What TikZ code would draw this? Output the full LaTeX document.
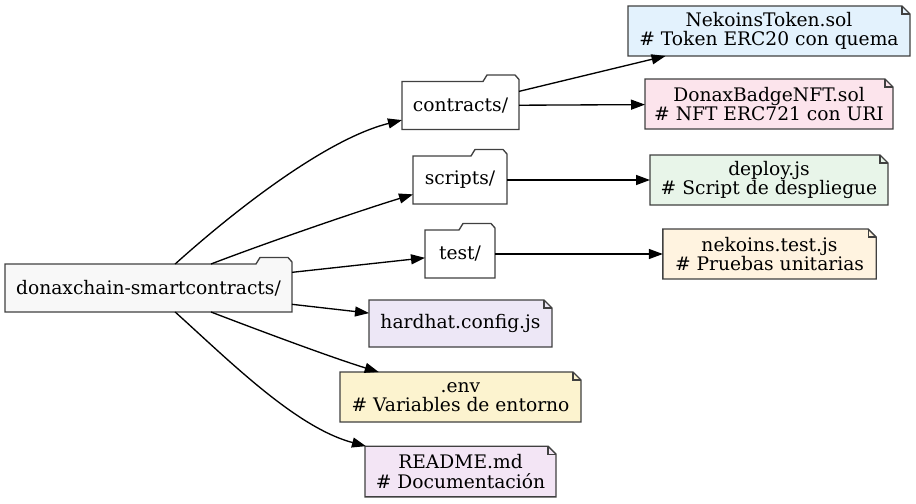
\documentclass[tikz,border=0pt]{standalone}
\usepackage{fontspec}
\setmainfont{DejaVu Serif}
\usepackage[dvipsnames]{xcolor}
\usetikzlibrary{arrows.meta,backgrounds}
\definecolor{rootgray}{HTML}{F8F8F8}
\definecolor{tokenblue}{HTML}{E3F2FD}
\definecolor{badgepink}{HTML}{FCE4EC}
\definecolor{deploygreen}{HTML}{E8F5E9}
\definecolor{testorange}{HTML}{FFF3E0}
\definecolor{hardhatlilac}{HTML}{EDE7F6}
\definecolor{envyellow}{HTML}{FCF3CF}
\definecolor{readmepurple}{HTML}{F3E5F5}

\begin{document}
\begin{tikzpicture}[x=0.75pt,y=-0.75pt,->,>={Triangle[length=10.5pt,width=7.5pt]},
  every edge/.append style={line width=1pt},
  every node/.style={font=\fontsize{14}{14.5}\selectfont,align=center,inner sep=0pt,outer sep=0pt},
  box/.style 2 args={minimum width=#1,minimum height=#2},
  boxline/.style={line width=1pt,draw=black!75}]
  \useasboundingbox (0,0) rectangle (916,503);
  % folders
  \node[box={215.25pt}{36pt}] (root) at (148.5,288) {donaxchain-smartcontracts/};
  \node[box={87.75pt}{36pt}] (contracts) at (460.5,105.5) {contracts/};
  \node[box={70.5pt}{36pt}] (scripts) at (460,180) {scripts/};
  \node[box={52.5pt}{36pt}] (test) at (460,254) {test/};
  % files
  \node[box={137.25pt}{35.25pt}] (hardhat) at (460.5,323.5) {hardhat.config.js};
  \node[box={180.75pt}{37.5pt}] (env) at (460.5,397) {.env\\\# Variables de entorno};
  \node[box={143.25pt}{38pt}] (readme) at (460.5,471.5) {README.md\\\# Documentación};
  \node[box={211.5pt}{37.5pt}] (token) at (769,31) {NekoinsToken.sol\\\# Token ERC20 con quema};
  \node[box={186pt}{37.5pt}] (badge) at (769,104) {DonaxBadgeNFT.sol\\\# NFT ERC721 con URI};
  \node[box={178.5pt}{37.5pt}] (deploy) at (769,180) {deploy.js\\\# Script de despliegue};
  \node[box={160pt}{37.5pt}] (testjs) at (769.5,254) {nekoins.test.js\\\# Pruebas unitarias};

  \begin{scope}[on background layer,-]
    \foreach \n/\c in {root/rootgray,contracts/white,scripts/white,test/white}
      \filldraw[boxline,fill=\c] (\n.south west) -- (\n.north west)
        -- ([xshift=-27pt]\n.north east) -- ([xshift=-24pt,yshift=4.9pt]\n.north east)
        -- ([xshift=-3pt,yshift=4.9pt]\n.north east) -- ([yshift=1.5pt]\n.north east)
        -- (\n.south east) -- cycle;
    \foreach \n/\c in {hardhat/hardhatlilac,env/envyellow,readme/readmepurple,
        token/tokenblue,badge/badgepink,deploy/deploygreen,testjs/testorange}
      {\filldraw[boxline,fill=\c] (\n.south west) -- (\n.north west)
         -- ([xshift=-6pt]\n.north east) -- ([yshift=-6pt]\n.north east)
         -- (\n.south east) -- cycle;
       \draw[boxline] ([xshift=-6pt]\n.north east) |- ([yshift=-6pt]\n.north east);}
  \end{scope}

  \path (root) edge[out=42,in=194,looseness=0.75] (contracts)
               edge[out=21,in=197,looseness=0.7] (scripts)
               edge (test)
               edge (hardhat)
               edge[out=339,in=163,looseness=0.7] (env)
               edge[out=318,in=165,looseness=0.8] (readme)
        (contracts) edge (token)
                    edge (badge)
        (scripts) edge (deploy)
        (test) edge (testjs);
\end{tikzpicture}
\end{document}
